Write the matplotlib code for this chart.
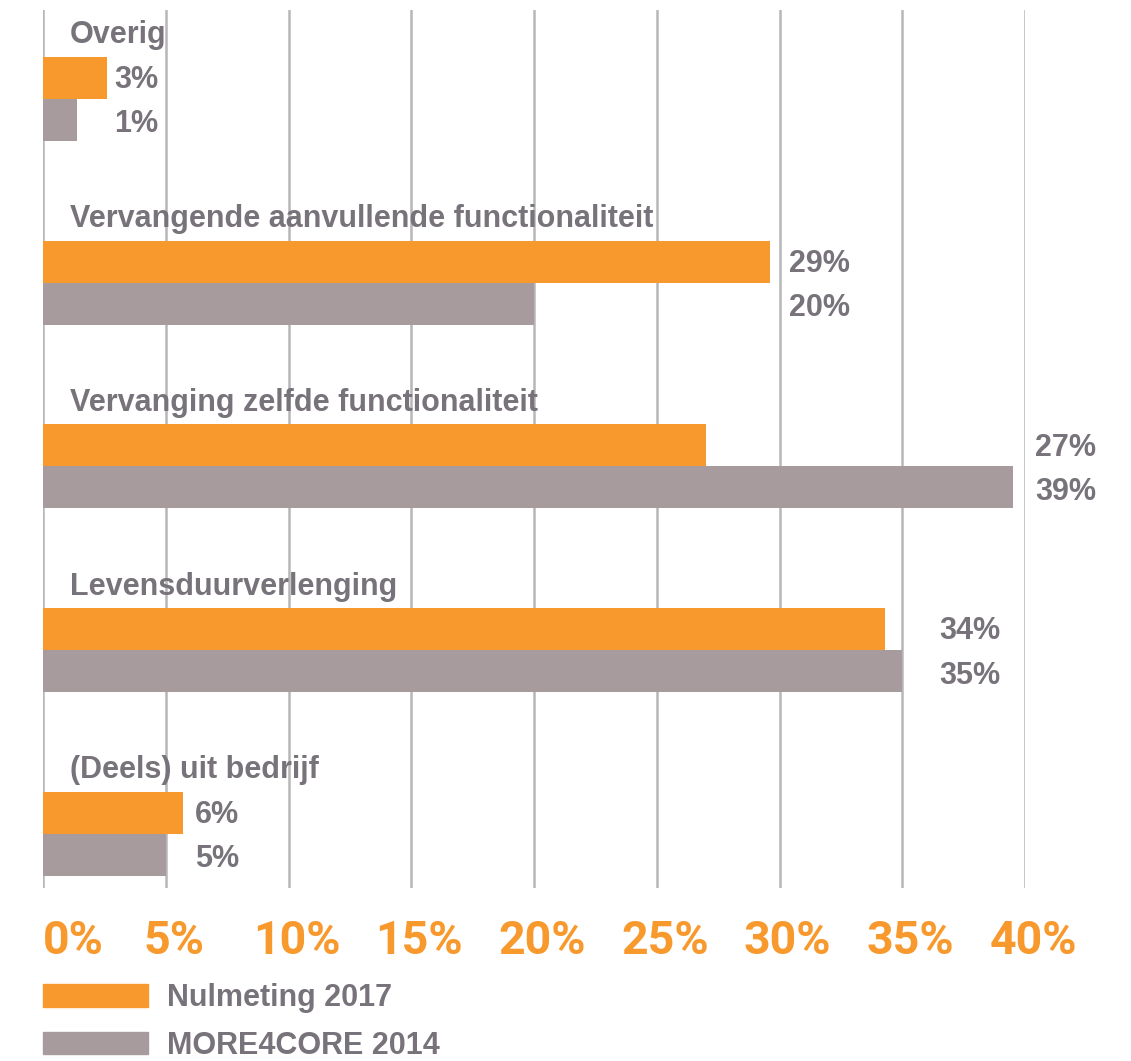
import matplotlib
matplotlib.use("Agg")
import matplotlib.pyplot as plt
import matplotlib.transforms as mtransforms
from matplotlib.patches import Patch

plt.rcParams['font.family'] = ['Liberation Sans', 'DejaVu Sans']

categories = ['Overig',
              'Vervangende aanvullende functionaliteit',
              'Vervanging zelfde functionaliteit',
              'Levensduurverlenging',
              '(Deels) uit bedrijf']
nulmeting_2017 = [2.6, 29.6, 27.0, 34.3, 5.7]
more4core_2014 = [1.4, 20.0, 39.5, 35.0, 5.0]
nulmeting_labels = ['3%', '29%', '27%', '34%', '6%']
more4core_labels = ['1%', '20%', '39%', '35%', '5%']
series_names = ['Nulmeting 2017', 'MORE4CORE 2014']
xticks = [0, 5, 10, 15, 20, 25, 30, 35, 40]

orange = '#f7992d'
grey = '#a89b9d'
textgrey = '#78737a'
gridgrey = '#b8b6b8'
label_pad = [0.3, 0.8, 0.9, 1.5, 0.5]  # gap between bar end and value label (%)

W, H = 1131, 1061
fig = plt.figure(figsize=(W / 100, H / 100), dpi=100)
ax = fig.add_axes([43 / W, 1 - 888 / H, 982 / W, 878 / H])

step = 4.38  # distance between groups, in bar heights
for i, cat in enumerate(categories):
    y0 = i * step
    ax.barh(y0, nulmeting_2017[i], height=1.0, color=orange, zorder=2)
    ax.barh(y0 + 1, more4core_2014[i], height=1.0, color=grey, zorder=2)
    ax.text(1.1, y0 - 1.02, cat, fontsize=22, fontweight='bold', color=textgrey,
            va='center', ha='left', zorder=3)
    lx = max(nulmeting_2017[i], more4core_2014[i]) + label_pad[i]
    ax.text(lx, y0 + 0.05, nulmeting_labels[i], fontsize=22, fontweight='bold',
            color=textgrey, va='center', ha='left')
    ax.text(lx, y0 + 1.1, more4core_labels[i], fontsize=22, fontweight='bold',
            color=textgrey, va='center', ha='left')

for x in xticks:
    ax.axvline(x, color=gridgrey, lw=1.8, zorder=1)

ax.set_xlim(0, 40)
ax.set_ylim(19.3, -1.61)
ax.set_yticks([])
ax.set_xticks(xticks)
ax.set_xticklabels([f'{x}%' for x in xticks], fontsize=33.5, fontweight='bold',
                   color=orange, family=['Roboto', 'DejaVu Sans'])
ax.tick_params(axis='x', length=0, pad=22)
shift = mtransforms.ScaledTranslation(8 / 100, 0, fig.dpi_scale_trans)
labels = ax.get_xticklabels()
for lab in labels[1:]:
    lab.set_transform(lab.get_transform() + shift)
labels[0].set_ha('left')
for s in ax.spines.values():
    s.set_visible(False)

handles = [Patch(color=orange), Patch(color=grey)]
leg = fig.legend(handles, series_names, loc='upper left',
                 bbox_to_anchor=(43 / W, 1 - 983 / H), frameon=False,
                 fontsize=22, handlelength=3.45, handleheight=0.75,
                 handletextpad=0.6, labelspacing=0.58, borderpad=0,
                 borderaxespad=0)
for t in leg.get_texts():
    t.set_color(textgrey)
    t.set_fontweight('bold')

fig.savefig('out.png', dpi=100)
